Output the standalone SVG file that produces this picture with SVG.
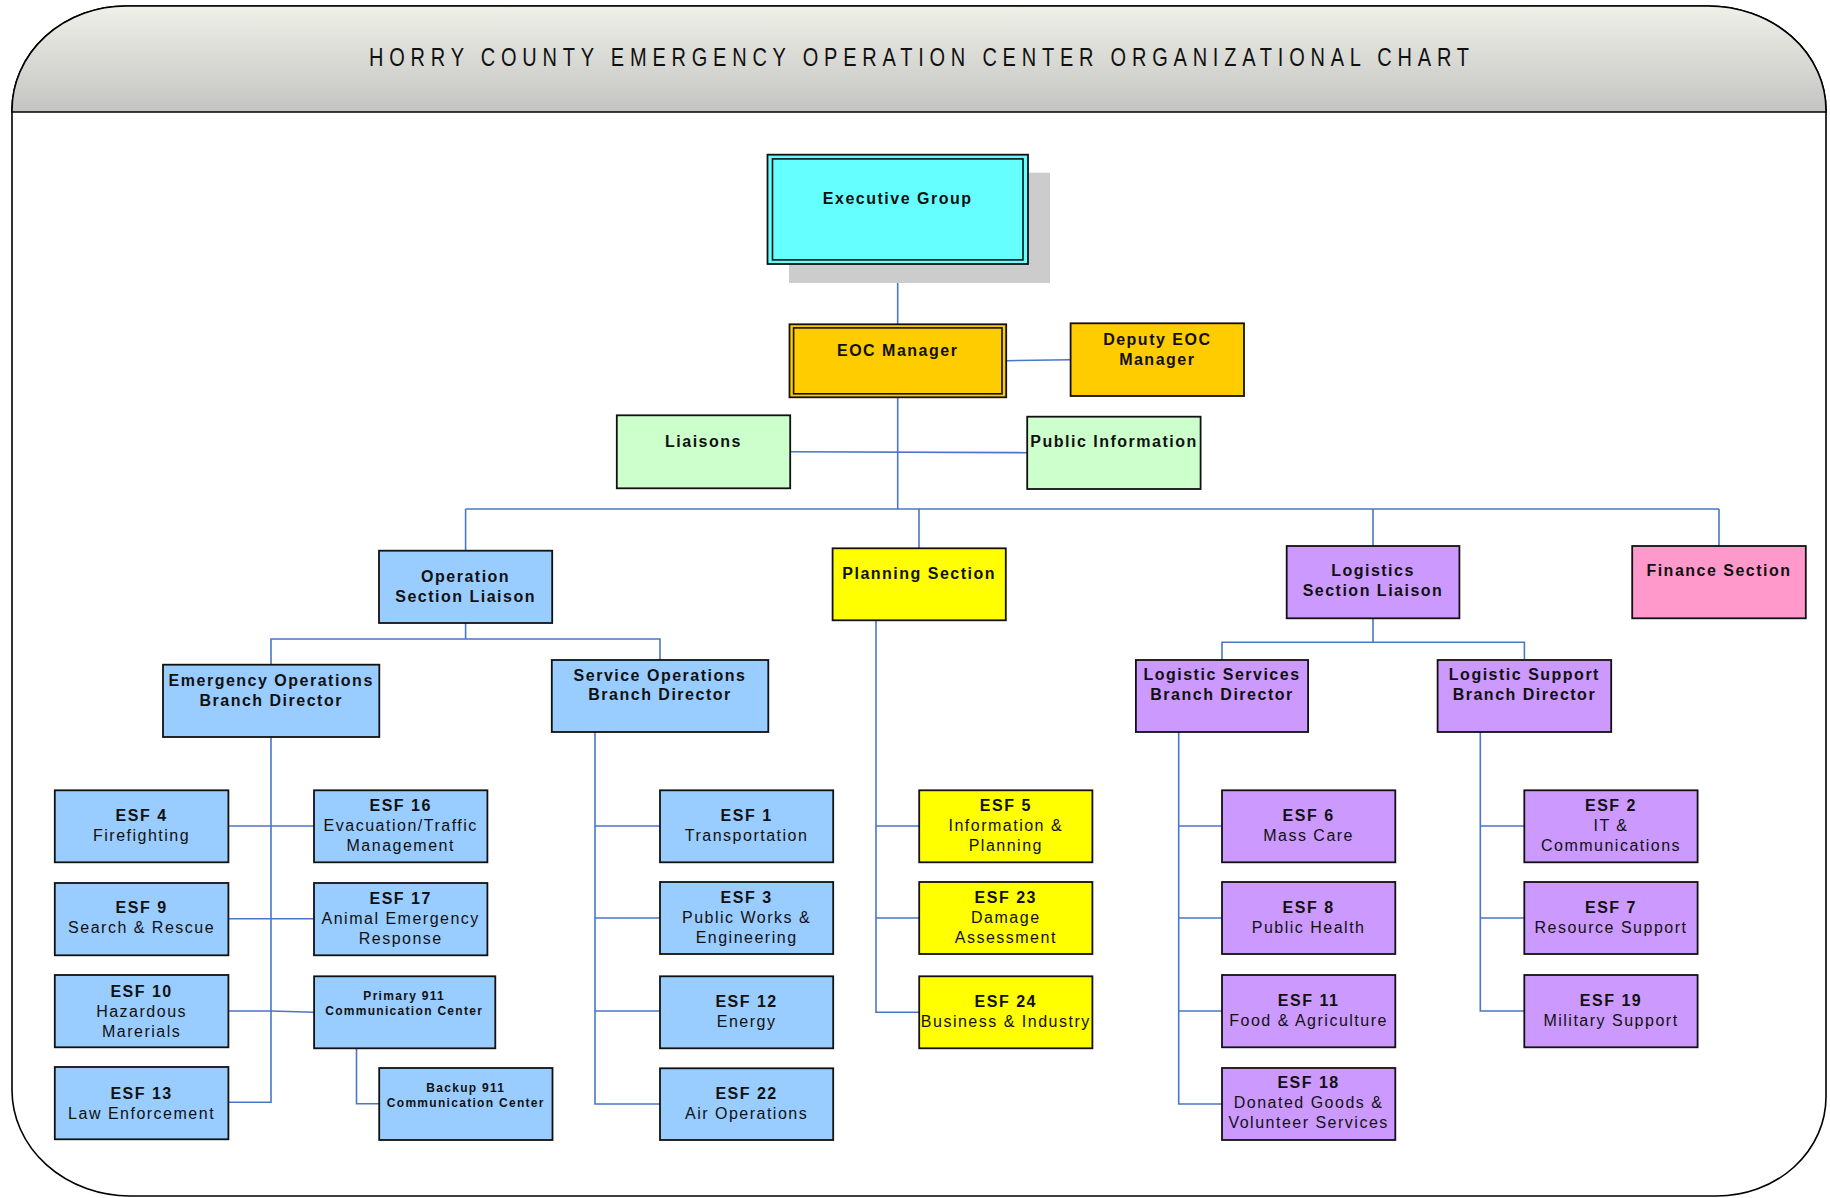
<svg xmlns="http://www.w3.org/2000/svg" width="1830" height="1198" viewBox="0 0 1830 1198">
<defs>
<linearGradient id="hdr" x1="0" y1="0" x2="0" y2="1">
<stop offset="0" stop-color="#eff0e8"/>
<stop offset="1" stop-color="#c4c4c2"/>
</linearGradient>
<style>
.frame{fill:#fff;stroke:#000;stroke-width:1.6}
.box{stroke:#111;stroke-width:1.8}
.inner{fill:none;stroke:#111;stroke-width:1.6}
.cyan{fill:#66ffff}.orange{fill:#ffcc00}.green{fill:#ccffcc}.blue{fill:#99ccff}
.yellow{fill:#ffff00}.purple{fill:#cc99ff}.pink{fill:#ff99cc}
text{font-family:"Liberation Sans",Arial,sans-serif;font-size:16px;letter-spacing:1.5px;text-anchor:middle;fill:#111}
.b{font-weight:bold}
.s{font-size:12px;font-weight:bold;letter-spacing:1.3px}
.title{font-size:25px;letter-spacing:0;font-weight:normal}
#connectors path{fill:none;stroke:#4a76c6;stroke-width:1.6}
</style>
</defs>
<rect width="1830" height="1198" fill="#fff"/>
<g id="frame">
<path class="frame" d="M12 110 A114 104 0 0 1 126 6 H1708 A118 104 0 0 1 1826 110 V1097 A109 99 0 0 1 1717 1196 H130 A118 106 0 0 1 12 1090 Z"/>
<path d="M12 112 V110 A114 104 0 0 1 126 6 H1708 A118 104 0 0 1 1826 110 V112 Z" fill="url(#hdr)" stroke="#000" stroke-width="1.6"/>
<text class="title" transform="scale(0.8,1)" x="1148.75" y="66.5" textLength="1375" lengthAdjust="spacing">HORRY COUNTY EMERGENCY OPERATION CENTER ORGANIZATIONAL CHART</text>
</g>
<g id="connectors">
<path d="M897.7 264 V324.3"/>
<path d="M897.7 397.3 V509"/>
<path d="M1006.2 360.7 L1070.6 359.7"/>
<path d="M790.2 451.7 L1027.2 452.7"/>
<path d="M465.6 509 H1719"/>
<path d="M465.6 509 V550.7"/>
<path d="M919 509 V548.3"/>
<path d="M1373 509 V546"/>
<path d="M1719 509 V546"/>
<path d="M465.6 623 V639"/>
<path d="M271 664.7 V639 H660 V660"/>
<path d="M1373 618.3 V642.3"/>
<path d="M1222 660 V642.3 H1524.4 V660"/>
<path d="M271 737 V1102.3 H228.4"/>
<path d="M228.4 826 H314"/>
<path d="M228.4 918.7 H314"/>
<path d="M228.4 1011 L271 1011 L314 1012.3"/>
<path d="M356.5 1048.3 V1103.7 H379.2"/>
<path d="M595 732 V1104 H660"/>
<path d="M595 826 H660"/>
<path d="M595 918 H660"/>
<path d="M595 1011 H660"/>
<path d="M876 620.3 V1012.3 H919.2"/>
<path d="M876 826 H919.2"/>
<path d="M876 918 H919.2"/>
<path d="M1178.7 732 V1104 H1222"/>
<path d="M1178.7 826 H1222"/>
<path d="M1178.7 918 H1222"/>
<path d="M1178.7 1011 H1222"/>
<path d="M1480.3 732 V1011 H1524.3"/>
<path d="M1480.3 826 H1524.3"/>
<path d="M1480.3 918 H1524.3"/>
</g>
<g id="exec">
<rect x="789" y="172.7" width="261" height="110.3" fill="#cccccc"/>
<rect class="box cyan" x="767.5" y="154.7" width="260.5" height="109.3"/>
<rect class="inner" x="772.5" y="158.9" width="250.5" height="101"/>
<text class="b" x="897.7" y="204">Executive Group</text>
</g>
<g id="eoc">
<rect class="box orange" x="789.5" y="324.3" width="216.7" height="73"/>
<rect class="inner" x="793.6" y="327.9" width="208.4" height="65.9"/>
<text class="b" x="897.7" y="356">EOC Manager</text>
</g>
<g id="deputy">
<rect class="box orange" x="1070.6" y="323.3" width="173.4" height="72.7"/>
<text class="b" x="1157.3" y="345">Deputy EOC</text>
<text class="b" x="1157.3" y="365">Manager</text>
</g>
<g id="liaisons">
<rect class="box green" x="616.8" y="415.3" width="173.4" height="73"/>
<text class="b" x="703.5" y="446.7">Liaisons</text>
</g>
<g id="publicinfo">
<rect class="box green" x="1027.2" y="416.7" width="173.4" height="72.3"/>
<text class="b" x="1114" y="447.3" letter-spacing="1.1">Public Information</text>
</g>
<g id="opsec">
<rect class="box blue" x="379" y="550.7" width="173.2" height="72.3"/>
<text class="b" x="465.6" y="581.7">Operation</text>
<text class="b" x="465.6" y="601.7">Section Liaison</text>
</g>
<g id="planning">
<rect class="box yellow" x="832.6" y="548.3" width="173.2" height="72"/>
<text class="b" x="919.2" y="579">Planning Section</text>
</g>
<g id="logsec">
<rect class="box purple" x="1286.7" y="546" width="172.7" height="72.3"/>
<text class="b" x="1373" y="576">Logistics</text>
<text class="b" x="1373" y="596">Section Liaison</text>
</g>
<g id="finance">
<rect class="box pink" x="1632.2" y="546" width="173.6" height="72.3"/>
<text class="b" x="1719" y="576">Finance Section</text>
</g>
<g id="eob">
<rect class="box blue" x="163" y="664.7" width="216.3" height="72.3"/>
<text class="b" x="271.2" y="685.7">Emergency Operations</text>
<text class="b" x="271.2" y="705.7">Branch Director</text>
</g>
<g id="serviceops">
<rect class="box blue" x="551.8" y="660" width="216.5" height="72"/>
<text class="b" x="660" y="681">Service Operations</text>
<text class="b" x="660" y="700">Branch Director</text>
</g>
<g id="logservices">
<rect class="box purple" x="1135.9" y="660" width="172.2" height="72"/>
<text class="b" x="1222" y="680.3" letter-spacing="1.1">Logistic Services</text>
<text class="b" x="1222" y="700">Branch Director</text>
</g>
<g id="logsupport">
<rect class="box purple" x="1437.6" y="660" width="173.6" height="72"/>
<text class="b" x="1524.4" y="680.3" letter-spacing="1.2">Logistic Support</text>
<text class="b" x="1524.4" y="700">Branch Director</text>
</g>
<g id="esf4">
<rect class="box blue" x="54.8" y="790.3" width="173.6" height="72"/>
<text class="b" x="141.6" y="820.8">ESF 4</text>
<text x="141.6" y="840.8">Firefighting</text>
</g>
<g id="esf9">
<rect class="box blue" x="54.8" y="883" width="173.6" height="72.3"/>
<text class="b" x="141.6" y="913.3">ESF 9</text>
<text x="141.6" y="933.3">Search &amp; Rescue</text>
</g>
<g id="esf10">
<rect class="box blue" x="54.8" y="975" width="173.6" height="72.3"/>
<text class="b" x="141.6" y="996.5">ESF 10</text>
<text x="141.6" y="1016.5">Hazardous</text>
<text x="141.6" y="1036.5">Marerials</text>
</g>
<g id="esf13">
<rect class="box blue" x="54.8" y="1067" width="173.6" height="72.3"/>
<text class="b" x="141.6" y="1098.5">ESF 13</text>
<text x="141.6" y="1118.5">Law Enforcement</text>
</g>
<g id="esf16">
<rect class="box blue" x="314" y="790.3" width="173.4" height="72"/>
<text class="b" x="400.7" y="810.8">ESF 16</text>
<text x="400.7" y="830.8">Evacuation/Traffic</text>
<text x="400.7" y="850.8">Management</text>
</g>
<g id="esf17">
<rect class="box blue" x="314" y="883" width="173.4" height="72.3"/>
<text class="b" x="400.7" y="903.7">ESF 17</text>
<text x="400.7" y="923.7">Animal Emergency</text>
<text x="400.7" y="943.7">Response</text>
</g>
<g id="primary911">
<rect class="box blue" x="314.1" y="976.3" width="181.2" height="72"/>
<text class="s" x="404.2" y="1000">Primary 911</text>
<text class="s" x="404.2" y="1015">Communication Center</text>
</g>
<g id="backup911">
<rect class="box blue" x="379.2" y="1068" width="173.3" height="72"/>
<text class="s" x="465.8" y="1092.3">Backup 911</text>
<text class="s" x="465.8" y="1107.3">Communication Center</text>
</g>
<g id="esf1">
<rect class="box blue" x="660" y="790.3" width="173.2" height="72"/>
<text class="b" x="746.6" y="820.8">ESF 1</text>
<text x="746.6" y="840.8">Transportation</text>
</g>
<g id="esf3">
<rect class="box blue" x="660" y="882" width="173.2" height="72"/>
<text class="b" x="746.6" y="903.3">ESF 3</text>
<text x="746.6" y="923.3">Public Works &amp;</text>
<text x="746.6" y="943.3">Engineering</text>
</g>
<g id="esf12">
<rect class="box blue" x="660" y="976.3" width="173.2" height="72"/>
<text class="b" x="746.6" y="1006.7">ESF 12</text>
<text x="746.6" y="1026.7">Energy</text>
</g>
<g id="esf22">
<rect class="box blue" x="660" y="1068.3" width="173.2" height="71.7"/>
<text class="b" x="746.6" y="1099">ESF 22</text>
<text x="746.6" y="1118.8">Air Operations</text>
</g>
<g id="esf5">
<rect class="box yellow" x="919.2" y="790.3" width="173.2" height="72"/>
<text class="b" x="1005.8" y="810.5">ESF 5</text>
<text x="1005.8" y="830.5">Information &amp;</text>
<text x="1005.8" y="850.5">Planning</text>
</g>
<g id="esf23">
<rect class="box yellow" x="919.2" y="882" width="173.2" height="72"/>
<text class="b" x="1005.8" y="903.3">ESF 23</text>
<text x="1005.8" y="923.3">Damage</text>
<text x="1005.8" y="943.3">Assessment</text>
</g>
<g id="esf24">
<rect class="box yellow" x="919.2" y="976.3" width="173.2" height="72"/>
<text class="b" x="1005.8" y="1006.7">ESF 24</text>
<text x="1005.8" y="1026.7" letter-spacing="1.3">Business &amp; Industry</text>
</g>
<g id="esf6">
<rect class="box purple" x="1222" y="790.3" width="173.3" height="72"/>
<text class="b" x="1308.6" y="820.8">ESF 6</text>
<text x="1308.6" y="840.8">Mass Care</text>
</g>
<g id="esf8">
<rect class="box purple" x="1222" y="882" width="173.3" height="72"/>
<text class="b" x="1308.6" y="912.5">ESF 8</text>
<text x="1308.6" y="932.5">Public Health</text>
</g>
<g id="esf11">
<rect class="box purple" x="1222" y="975" width="173.3" height="72.3"/>
<text class="b" x="1308.6" y="1005.5">ESF 11</text>
<text x="1308.6" y="1025.5">Food &amp; Agriculture</text>
</g>
<g id="esf18">
<rect class="box purple" x="1222" y="1068" width="173.3" height="72"/>
<text class="b" x="1308.6" y="1088.3">ESF 18</text>
<text x="1308.6" y="1108.3">Donated Goods &amp;</text>
<text x="1308.6" y="1128.3">Volunteer Services</text>
</g>
<g id="esf2">
<rect class="box purple" x="1524.3" y="790.3" width="173.3" height="72"/>
<text class="b" x="1611" y="810.5">ESF 2</text>
<text x="1611" y="830.5">IT &amp;</text>
<text x="1611" y="850.5">Communications</text>
</g>
<g id="esf7">
<rect class="box purple" x="1524.3" y="882" width="173.3" height="72"/>
<text class="b" x="1611" y="912.5">ESF 7</text>
<text x="1611" y="932.5">Resource Support</text>
</g>
<g id="esf19">
<rect class="box purple" x="1524.3" y="975" width="173.3" height="72.3"/>
<text class="b" x="1611" y="1005.5">ESF 19</text>
<text x="1611" y="1025.5">Military Support</text>
</g>
</svg>
